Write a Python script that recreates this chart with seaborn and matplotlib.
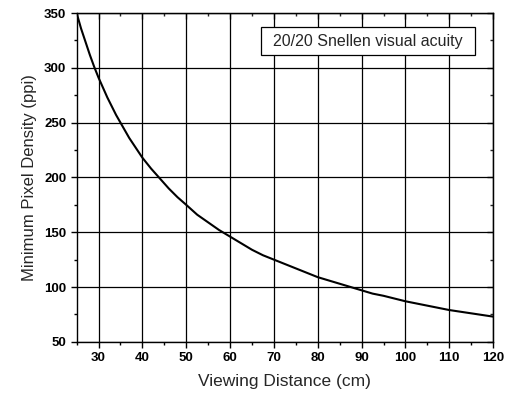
import matplotlib
matplotlib.use("Agg")
import matplotlib.pyplot as plt
import matplotlib.patches as mpatches
import seaborn as sns
import pandas as pd
from matplotlib.ticker import MultipleLocator

distance_cm = [25, 26, 27, 28, 29, 30, 31, 32, 33, 34, 35, 36, 37, 38, 39, 40,
               42, 44, 46, 48, 50, 52.5, 55, 57.5, 60, 62.5, 65, 67.5, 70, 72.5,
               75, 77.5, 80, 82.5, 85, 87.5, 90, 92.5, 95, 97.5, 100, 102.5, 105,
               107.5, 110, 112.5, 115, 117.5, 120]
ppi = [350, 336, 324, 312, 301, 291, 282, 273, 265, 257, 250, 243, 236, 230, 224, 218,
       208, 199, 190, 182, 175, 166, 159, 152, 146, 140, 134, 129, 125, 121,
       117, 113, 109, 106, 103, 100, 97, 94, 92, 89.5, 87, 85, 83,
       81, 79, 77.5, 76, 74.5, 73]
x_ticks = [30, 40, 50, 60, 70, 80, 90, 100, 110, 120]
y_ticks = [50, 100, 150, 200, 250, 300, 350]
label_text = "20/20 Snellen visual acuity"

df = pd.DataFrame({"Viewing Distance (cm)": distance_cm, "Minimum Pixel Density (ppi)": ppi})

sns.set_style("ticks")
plt.rcParams["font.family"] = ["Liberation Sans", "DejaVu Sans"]

fig = plt.figure(figsize=(5.11, 3.97), dpi=100)
ax = fig.add_axes([0.150, 0.139, 0.815, 0.828])

sns.lineplot(data=df, x="Viewing Distance (cm)", y="Minimum Pixel Density (ppi)",
             ax=ax, color="black", linewidth=1.5)

ax.set_xlim(25, 120)
ax.set_ylim(50, 350)
ax.set_xticks(x_ticks)
ax.set_yticks(y_ticks)
ax.xaxis.set_minor_locator(MultipleLocator(5))
ax.yaxis.set_minor_locator(MultipleLocator(25))
ax.grid(True, which="major", color="black", linewidth=0.9)
ax.set_axisbelow(True)

for s in ax.spines.values():
    s.set_color("black")
    s.set_linewidth(1.0)

ax.tick_params(which="both", direction="out", top=False, right=False, colors="black")
ax.tick_params(which="major", length=4, width=1.0, labelsize=9.5)
ax.tick_params(which="minor", length=2.5, width=1.0)
for lab in ax.get_xticklabels() + ax.get_yticklabels():
    lab.set_fontweight("bold")

axt = ax.secondary_xaxis("top")
axt.set_xticks(x_ticks)
axt.xaxis.set_minor_locator(MultipleLocator(5))
axt.tick_params(which="both", direction="in", labeltop=False, width=1.0)
axt.tick_params(which="major", length=4)
axt.tick_params(which="minor", length=2.5)
axr = ax.secondary_yaxis("right")
axr.set_yticks(y_ticks)
axr.yaxis.set_minor_locator(MultipleLocator(25))
axr.tick_params(which="both", direction="in", labelright=False, width=1.0)
axr.tick_params(which="major", length=4)
axr.tick_params(which="minor", length=2.5)

ax.set_xlabel("Viewing Distance (cm)", fontsize=12.5, labelpad=7)
ax.set_ylabel("Minimum Pixel Density (ppi)", fontsize=12, labelpad=5)

box = mpatches.Rectangle((0.442, 0.872), 0.515, 0.086, transform=ax.transAxes,
                         facecolor="white", edgecolor="black", linewidth=0.9, zorder=5)
ax.add_patch(box)
ax.text(0.698, 0.915, label_text, transform=ax.transAxes, ha="center", va="center",
        fontsize=11.5, zorder=6)

fig.savefig("out.png", dpi=100)
